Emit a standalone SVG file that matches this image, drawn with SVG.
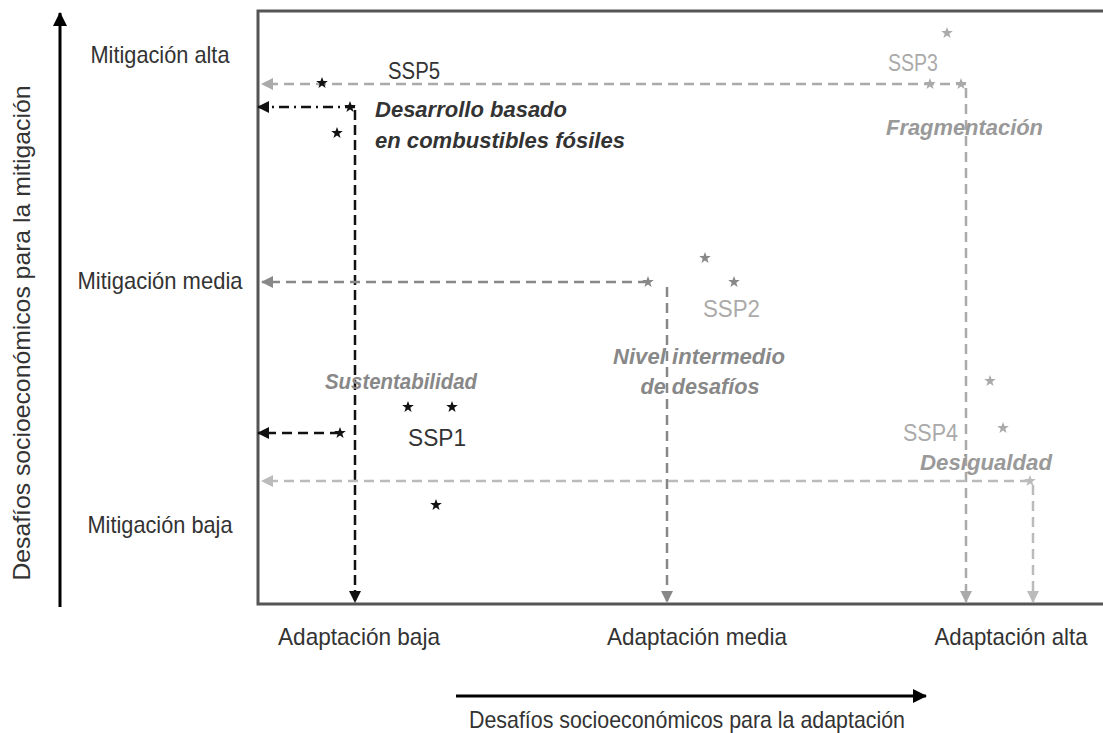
<svg xmlns="http://www.w3.org/2000/svg" width="1103" height="733" viewBox="0 0 1103 733">
<style>
text{font-family:"Liberation Sans",Arial,sans-serif;font-size:24px;fill:#333}
.bi{font-weight:bold;font-style:italic;font-size:22px}
.dl{fill:none;stroke-width:2.5}
</style>
<defs>
<path id="star" d="M0,-6 L1.5,-1.9 5.8,-1.9 2.3,0.8 3.6,5 0,2.5 -3.6,5 -2.3,0.8 -5.8,-1.9 -1.5,-1.9Z"/>
<marker id="ab" viewBox="0 0 12 12" refX="11" refY="6" markerWidth="12" markerHeight="12" markerUnits="userSpaceOnUse" orient="auto"><path d="M0,0 L12,6 0,12Z" fill="#111"/></marker>
<marker id="ag1" viewBox="0 0 12 12" refX="11" refY="6" markerWidth="12" markerHeight="12" markerUnits="userSpaceOnUse" orient="auto"><path d="M0,0 L12,6 0,12Z" fill="#aaa"/></marker>
<marker id="ag2" viewBox="0 0 12 12" refX="11" refY="6" markerWidth="12" markerHeight="12" markerUnits="userSpaceOnUse" orient="auto"><path d="M0,0 L12,6 0,12Z" fill="#888"/></marker>
<marker id="ag3" viewBox="0 0 12 12" refX="11" refY="6" markerWidth="12" markerHeight="12" markerUnits="userSpaceOnUse" orient="auto"><path d="M0,0 L12,6 0,12Z" fill="#bbb"/></marker>
<marker id="axis" viewBox="0 0 14 14" refX="13" refY="7" markerWidth="14" markerHeight="14" markerUnits="userSpaceOnUse" orient="auto"><path d="M0,0 L14,7 0,14Z" fill="#000"/></marker>
</defs>
<rect width="1103" height="733" fill="#fff"/>

<g id="axes">
<line x1="60" y1="607" x2="60" y2="13" stroke="#000" stroke-width="3" marker-end="url(#axis)"/>
<line x1="456" y1="696" x2="926" y2="696" stroke="#000" stroke-width="3" marker-end="url(#axis)"/>
<text transform="translate(30,333) rotate(-90)" text-anchor="middle" textLength="495" lengthAdjust="spacingAndGlyphs">Desafíos socioeconómicos para la mitigación</text>
<text x="687" y="728" text-anchor="middle" textLength="436" lengthAdjust="spacingAndGlyphs">Desafíos socioeconómicos para la adaptación</text>
<text x="160" y="63" text-anchor="middle" textLength="139" lengthAdjust="spacingAndGlyphs">Mitigación alta</text>
<text x="160" y="289" text-anchor="middle" textLength="165" lengthAdjust="spacingAndGlyphs">Mitigación media</text>
<text x="160" y="533" text-anchor="middle" textLength="145" lengthAdjust="spacingAndGlyphs">Mitigación baja</text>
<text x="359" y="645" text-anchor="middle" textLength="162" lengthAdjust="spacingAndGlyphs">Adaptación baja</text>
<text x="697" y="645" text-anchor="middle" textLength="180" lengthAdjust="spacingAndGlyphs">Adaptación media</text>
<text x="1011" y="645" text-anchor="middle" textLength="153" lengthAdjust="spacingAndGlyphs">Adaptación alta</text>
</g>

<g id="frame">
<path d="M1110,11 H258 V604 H1110" fill="none" stroke="#555" stroke-width="3"/>
</g>

<g id="connectors">
<polyline class="dl" points="966,84 262,84" stroke="#aaa" stroke-dasharray="10,6" marker-end="url(#ag1)"/>
<polyline class="dl" points="966,88 966,602" stroke="#aaa" stroke-dasharray="10,6" marker-end="url(#ag1)"/>
<polyline class="dl" points="355,107 258,107" stroke="#111" stroke-dasharray="10,5,2,5" marker-end="url(#ab)"/>
<polyline class="dl" points="355,110 355,602" stroke="#111" stroke-dasharray="10,5" marker-end="url(#ab)"/>
<polyline class="dl" points="648,282 262,282" stroke="#888" stroke-dasharray="10,6" marker-end="url(#ag2)"/>
<polyline class="dl" points="667,287 667,602" stroke="#888" stroke-dasharray="10,6" marker-end="url(#ag2)"/>
<polyline class="dl" points="340,433 258,433" stroke="#111" stroke-dasharray="10,6" marker-end="url(#ab)"/>
<polyline class="dl" points="1030,481 262,481" stroke="#bbb" stroke-dasharray="10,6" marker-end="url(#ag3)"/>
<polyline class="dl" points="1033,485 1033,602" stroke="#bbb" stroke-dasharray="10,6" marker-end="url(#ag3)"/>
</g>

<g id="ssp5">
<use href="#star" x="322" y="83" fill="#111"/>
<use href="#star" x="350" y="107" fill="#111"/>
<use href="#star" x="337" y="133" fill="#111"/>
<text x="388" y="79" fill="#333" textLength="52" lengthAdjust="spacingAndGlyphs">SSP5</text>
<text class="bi" x="375" y="117" fill="#222" textLength="192" lengthAdjust="spacingAndGlyphs">Desarrollo basado</text>
<text class="bi" x="375" y="148" fill="#222" textLength="250" lengthAdjust="spacingAndGlyphs">en combustibles fósiles</text>
</g>

<g id="ssp3">
<use href="#star" x="947" y="33" fill="#aaa"/>
<use href="#star" x="930" y="84" fill="#aaa"/>
<use href="#star" x="961" y="84" fill="#aaa"/>
<text x="888" y="71" style="fill:#aaa" textLength="50" lengthAdjust="spacingAndGlyphs">SSP3</text>
<text class="bi" x="886" y="135" style="fill:#999" textLength="157" lengthAdjust="spacingAndGlyphs">Fragmentación</text>
</g>

<g id="ssp2">
<use href="#star" x="705" y="258" fill="#888"/>
<use href="#star" x="734" y="282" fill="#888"/>
<use href="#star" x="648" y="282" fill="#888"/>
<text x="703" y="317" style="fill:#aaa" textLength="57" lengthAdjust="spacingAndGlyphs">SSP2</text>
<text class="bi" x="699" y="364" text-anchor="middle" style="fill:#888" textLength="172" lengthAdjust="spacingAndGlyphs">Nivel intermedio</text>
<text class="bi" x="700" y="394" text-anchor="middle" style="fill:#888" textLength="119" lengthAdjust="spacingAndGlyphs">de desafíos</text>
</g>

<g id="ssp1">
<use href="#star" x="408" y="407" fill="#111"/>
<use href="#star" x="452" y="407" fill="#111"/>
<use href="#star" x="340" y="433" fill="#111"/>
<use href="#star" x="436" y="505" fill="#111"/>
<text x="408" y="446" fill="#333" textLength="58" lengthAdjust="spacingAndGlyphs">SSP1</text>
<text class="bi" x="401" y="389" text-anchor="middle" style="fill:#888" textLength="152" lengthAdjust="spacingAndGlyphs">Sustentabilidad</text>
</g>

<g id="ssp4">
<use href="#star" x="990" y="381" fill="#aaa"/>
<use href="#star" x="1003" y="428" fill="#aaa"/>
<use href="#star" x="1030" y="481" fill="#bbb"/>
<text x="903" y="441" style="fill:#aaa" textLength="55" lengthAdjust="spacingAndGlyphs">SSP4</text>
<text class="bi" x="986" y="470" text-anchor="middle" style="fill:#999" textLength="132" lengthAdjust="spacingAndGlyphs">Desigualdad</text>
</g>
</svg>
